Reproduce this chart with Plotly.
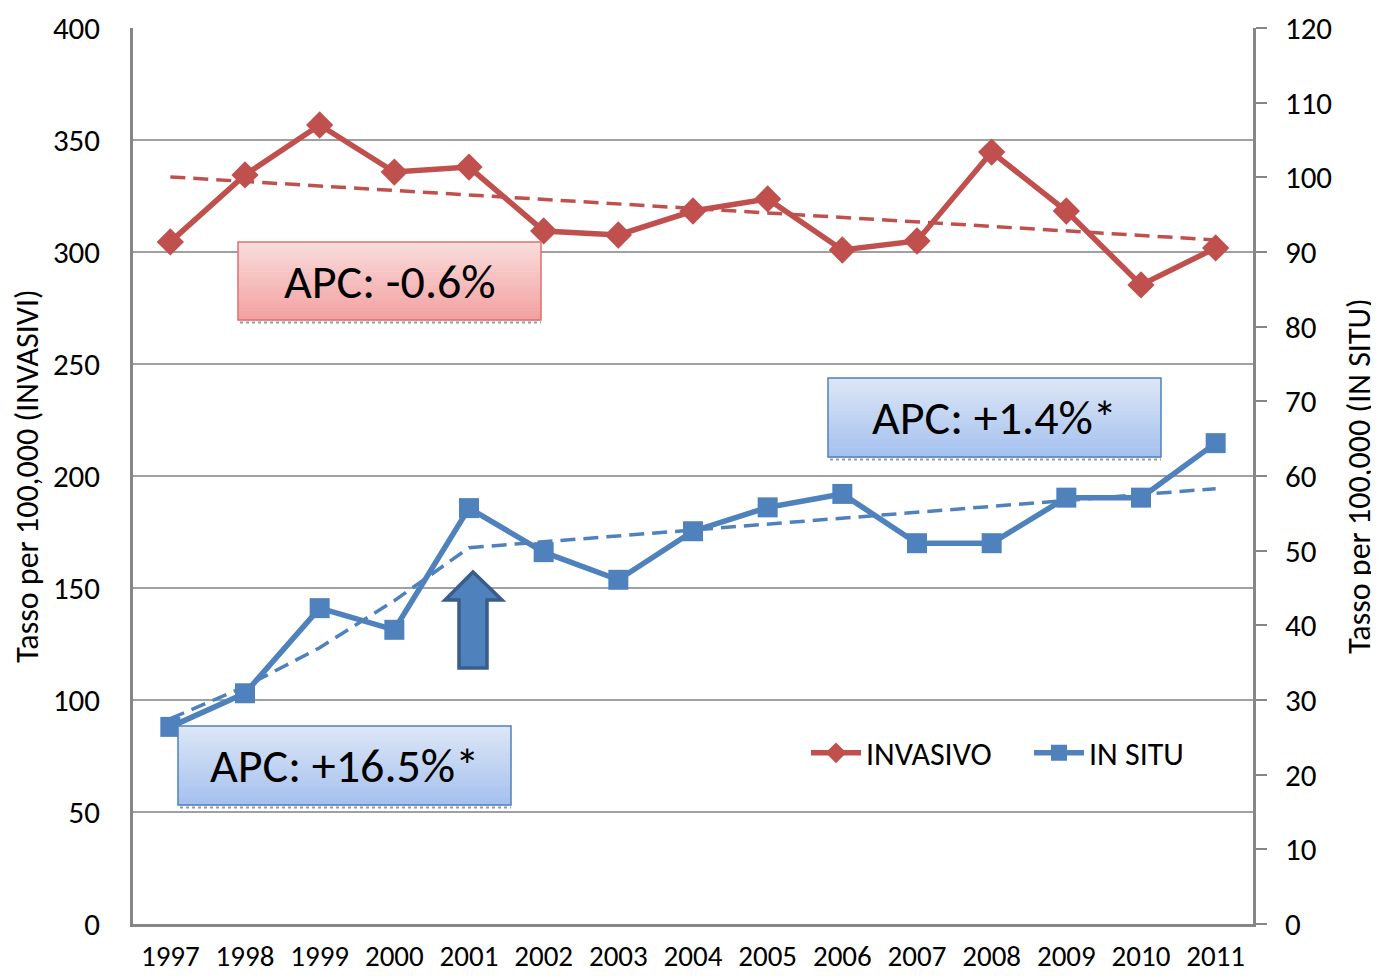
import plotly.graph_objects as go

years = ["1997", "1998", "1999", "2000", "2001", "2002", "2003", "2004",
         "2005", "2006", "2007", "2008", "2009", "2010", "2011"]
invasivo = [304.5, 334.4, 356.7, 335.7, 337.9, 309.4, 307.6, 318.3,
            323.7, 300.9, 304.9, 344.6, 318.3, 285.3, 301.8]
in_situ = [26.4, 30.9, 42.3, 39.4, 55.7, 49.8, 46.1, 52.6,
           55.8, 57.6, 51.0, 51.0, 57.1, 57.1, 64.4]
# joinpoint trend
trend_inv_years = ["1997", "2011"]
trend_inv = [333.5, 305.4]
trend_situ_years = ["1997", "1998", "1999", "2000", "2001", "2011"]
trend_situ = [27.5, 31.8, 37.0, 43.3, 50.4, 58.3]
left_ticks = [0, 50, 100, 150, 200, 250, 300, 350, 400]
right_ticks = [0, 10, 20, 30, 40, 50, 60, 70, 80, 90, 100, 110, 120]
apc_labels = ["APC: -0.6%", "APC: +1.4%*", "APC: +16.5%*"]

RED = "#C0504D"
BLUE = "#4F81BD"
FONT = "Carlito, Calibri, sans-serif"

fig = go.Figure()
fig.add_trace(go.Scatter(x=trend_inv_years, y=trend_inv, mode="lines",
                         line=dict(color=RED, width=3.5, dash="15px,8px"),
                         showlegend=False, hoverinfo="skip"))
fig.add_trace(go.Scatter(x=trend_situ_years, y=trend_situ, mode="lines", yaxis="y2",
                         line=dict(color=BLUE, width=3.5, dash="15px,8px"),
                         showlegend=False, hoverinfo="skip"))
fig.add_trace(go.Scatter(x=years, y=invasivo, mode="lines+markers", name="INVASIVO",
                         line=dict(color=RED, width=5.5),
                         marker=dict(symbol="diamond", size=21, color=RED)))
fig.add_trace(go.Scatter(x=years, y=in_situ, mode="lines+markers", name="IN SITU",
                         yaxis="y2",
                         line=dict(color=BLUE, width=5.5),
                         marker=dict(symbol="square", size=20, color=BLUE)))

# page body has an 8px default margin: figure is drawn at (8, 8) in the window
OFF = 8
W, H = 1379 - OFF, 978 - OFF
L, R, T, B = 133, 1253, 28, 924   # plot area in window pixels


def px(x):
    return (x - L) / (R - L)


def py(y):
    return (B - y) / (B - T)


def lerp(c1, c2, t):
    a = [int(c1[i:i + 2], 16) for i in (1, 3, 5)]
    b = [int(c2[i:i + 2], 16) for i in (1, 3, 5)]
    return "#%02x%02x%02x" % tuple(round(a[k] + (b[k] - a[k]) * t) for k in range(3))


shapes = []
annotations = []
boxes = [
    (238, 242, 541, 320, "#F9DCDC", "#F3A0A0", "#E07070", apc_labels[0]),
    (828, 378, 1161, 457, "#DDE7F6", "#A4C0EE", "#4F81BD", apc_labels[1]),
    (178, 726, 511, 805, "#DDE7F6", "#A4C0EE", "#4F81BD", apc_labels[2]),
]
N = 24
for (x0, y0, x1, y1, ctop, cbot, cborder, txt) in boxes:
    h = (y1 - y0) / N
    for i in range(N):
        shapes.append(dict(type="rect", xref="paper", yref="paper",
                           x0=px(x0), x1=px(x1), y0=py(y0 + h * (i + 1) + 0.5), y1=py(y0 + h * i),
                           fillcolor=lerp(ctop, cbot, (i + 0.5) / N), line=dict(width=0),
                           layer="above"))
    shapes.append(dict(type="rect", xref="paper", yref="paper",
                       x0=px(x0), x1=px(x1), y0=py(y1), y1=py(y0),
                       line=dict(color=cborder, width=1.5), layer="above"))
    shapes.append(dict(type="line", xref="paper", yref="paper",
                       x0=px(x0 + 2), x1=px(x1), y0=py(y1 + 2.5), y1=py(y1 + 2.5),
                       line=dict(color="#9a9a9a", width=2, dash="dot"), layer="above"))
    annotations.append(dict(xref="paper", yref="paper", x=px((x0 + x1) / 2), y=py((y0 + y1) / 2),
                            text=txt, showarrow=False, xanchor="center", yanchor="middle",
                            font=dict(family=FONT, size=48, color="black")))

# up arrow
ax = [473, 502, 487, 487, 459, 459, 445]
ay = [572, 600, 600, 668, 668, 600, 600]
path = "M " + " L ".join(f"{px(a):.5f},{py(b):.5f}" for a, b in zip(ax, ay)) + " Z"
shapes.append(dict(type="path", xref="paper", yref="paper", path=path,
                   fillcolor=BLUE, line=dict(color="#385D8A", width=3.5), layer="above"))

fig.update_layout(
    template="none",
    width=W, height=H,
    margin=dict(l=L - OFF, r=W - (R - OFF), t=T - OFF, b=H - (B - OFF), autoexpand=False),
    paper_bgcolor="white", plot_bgcolor="white",
    font=dict(family=FONT, size=30, color="black"),
    showlegend=True,
    legend=dict(orientation="h", x=px(806), y=py(753), xanchor="left", yanchor="middle",
                bgcolor="rgba(0,0,0,0)", font=dict(family=FONT, size=32),
                itemwidth=50, entrywidth=158, tracegroupgap=0),
    xaxis=dict(type="category", categoryorder="array", categoryarray=years,
               range=[-0.5, 14.5], showgrid=False, showline=True, linecolor="#868686",
               linewidth=2.5, ticks="", tickfont=dict(family=FONT, size=29),
               ticklabelstandoff=4, zeroline=False, automargin=False),
    yaxis=dict(range=[0, 400], tickvals=left_ticks, showgrid=True, gridcolor="#a0a0a0",
               gridwidth=2, showline=True, linecolor="#868686", linewidth=2.5, ticks="",
               ticklabelstandoff=24, tickfont=dict(family=FONT, size=31), zeroline=False,
               automargin=False,
               title=dict(text="Tasso per 100,000 (INVASIVI)", standoff=13,
                          font=dict(family=FONT, size=32))),
    yaxis2=dict(range=[0, 120], tickvals=right_ticks, overlaying="y", side="right",
                showgrid=False, showline=True, linecolor="#868686", linewidth=2.5,
                ticks="outside", ticklen=11, tickcolor="#868686", tickwidth=2,
                ticklabelstandoff=12, tickfont=dict(family=FONT, size=31), zeroline=False,
                automargin=False,
                title=dict(text="Tasso per 100,000 (IN SITU)", standoff=23,
                           font=dict(family=FONT, size=32))),
    shapes=shapes, annotations=annotations,
)

fig.write_html("out.html")
